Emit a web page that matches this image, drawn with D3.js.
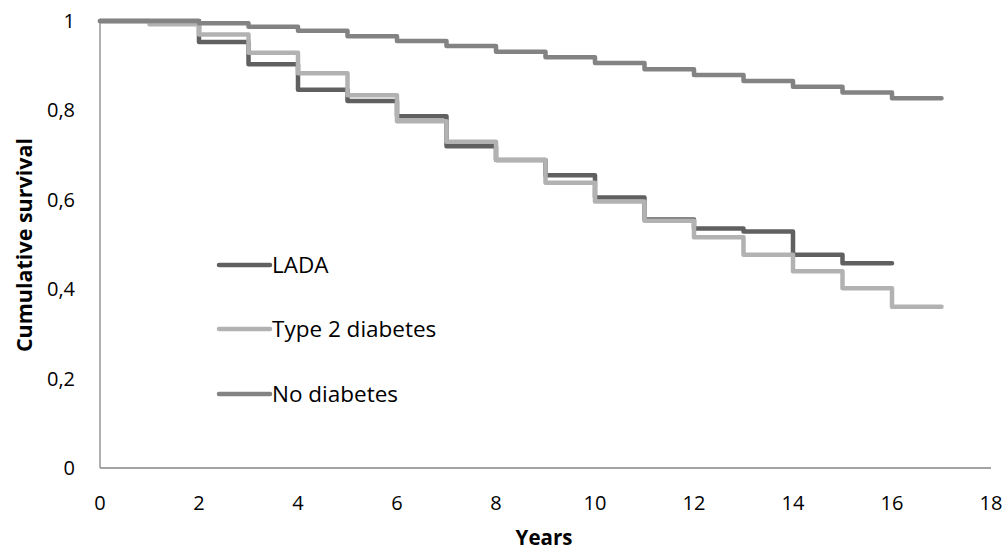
<!DOCTYPE html>
<html>
<head>
<meta charset="utf-8">
<script src="https://cdn.jsdelivr.net/npm/d3@7"></script>
<style>
  body { margin: 0; background: #fff; }
  text { font-family: 'Open Sans', sans-serif; fill: #000; }
</style>
</head>
<body>
<div id="chart"></div>
<script>
// survival value at the start of each yearly interval (step after)
const ladaSurv = [1, 1, 0.953, 0.903, 0.846, 0.821, 0.787, 0.72, 0.689, 0.655, 0.605, 0.556, 0.536, 0.529, 0.477, 0.458]
const type2Surv = [1, 0.993, 0.97, 0.929, 0.883, 0.834, 0.776, 0.73, 0.689, 0.638, 0.596, 0.553, 0.516, 0.477, 0.44, 0.402, 0.361]
const noDiabSurv = [1, 1, 0.995, 0.987, 0.978, 0.966, 0.955, 0.944, 0.931, 0.919, 0.906, 0.892, 0.879, 0.866, 0.853, 0.84, 0.827]

const seriesNames = ['LADA', 'Type 2 diabetes', 'No diabetes']
const seriesColors = ['#606060', '#b2b2b2', '#838383']
const xTicks = [0, 2, 4, 6, 8, 10, 12, 14, 16, 18]
const yTicks = [0, 0.2, 0.4, 0.6, 0.8, 1]

const width = 1002
const height = 551

const svg = d3.select('#chart')
  .append('svg')
  .attr('width', width)
  .attr('height', height)

const x = d3.scaleLinear().domain([0, 18]).range([100, 991])
const y = d3.scaleLinear().domain([0, 1]).range([468, 21])

// turn interval values into step points, closing at the end of the last interval
const toPoints = vals => vals.map((v, i) => [i, v]).concat([[vals.length, vals[vals.length - 1]]])

const line = d3.line()
  .x(d => x(d[0]))
  .y(d => y(d[1]))
  .curve(d3.curveStepAfter)

// axes lines (no ticks)
svg.append('line')
  .attr('x1', x(0)).attr('x2', x(18))
  .attr('y1', y(0)).attr('y2', y(0))
  .attr('stroke', '#868686').attr('stroke-width', 1.3)
svg.append('line')
  .attr('x1', x(0)).attr('x2', x(0))
  .attr('y1', y(0)).attr('y2', y(1) - 2)
  .attr('stroke', '#868686').attr('stroke-width', 1.3)

// tick labels
svg.selectAll('.xlab')
  .data(xTicks)
  .enter().append('text')
  .attr('class', 'xlab')
  .attr('x', d => x(d))
  .attr('y', 510)
  .attr('text-anchor', 'middle')
  .style('font-size', '20px')
  .text(d => d)

svg.selectAll('.ylab')
  .data(yTicks)
  .enter().append('text')
  .attr('class', 'ylab')
  .attr('x', 75)
  .attr('y', d => y(d) + 7)
  .attr('text-anchor', 'end')
  .style('font-size', '20px')
  .text(d => d3.format('~g')(d).replace('.', ','))

// axis titles
svg.append('text')
  .attr('x', 544)
  .attr('y', 545)
  .attr('text-anchor', 'middle')
  .style('font-size', '20.5px')
  .style('font-weight', 'bold')
  .text('Years')

svg.append('text')
  .attr('transform', `translate(32, 245) rotate(-90)`)
  .attr('text-anchor', 'middle')
  .style('font-size', '21.5px')
  .style('font-weight', 'bold')
  .text('Cumulative survival')

// survival curves
const allSeries = [ladaSurv, type2Surv, noDiabSurv]
svg.selectAll('.curve')
  .data(allSeries)
  .enter().append('path')
  .attr('class', 'curve')
  .attr('d', d => line(toPoints(d)))
  .attr('fill', 'none')
  .attr('stroke', (d, i) => seriesColors[i])
  .attr('stroke-width', 4.5)
  .attr('stroke-linejoin', 'round')
  .attr('stroke-linecap', 'round')

// legend
const legendY = [265, 329, 394]
const legend = svg.selectAll('.legend-item')
  .data(seriesNames)
  .enter().append('g')
  .attr('class', 'legend-item')
  .attr('transform', (d, i) => `translate(219, ${legendY[i]})`)

legend.append('line')
  .attr('x1', 0).attr('x2', 51)
  .attr('stroke', (d, i) => seriesColors[i])
  .attr('stroke-width', 4.5)
  .attr('stroke-linecap', 'round')

legend.append('text')
  .attr('x', 53)
  .attr('y', 8)
  .style('font-size', '22.5px')
  .text(d => d)
</script>
</body>
</html>
